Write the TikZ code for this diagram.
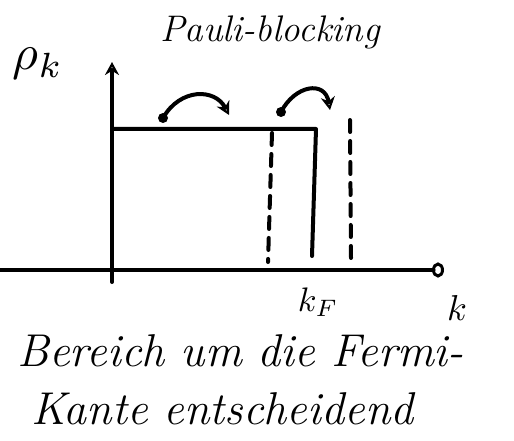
\documentclass[tikz,border=0pt]{standalone}
\usepackage{fix-cm}
\usepackage{fontspec}
\usetikzlibrary{arrows.meta}
\begin{document}
\begin{tikzpicture}[x=1pt,y=-1pt,
  pen/.style={line width=4pt,line cap=round,line join=round},
  dashpen/.style={pen,dash pattern=on 12pt off 9pt},
  tip/.style={-{Stealth[length=13pt,width=14pt,open,line width=3pt]}},
  hand/.style={font=\fontsize{#1}{#1}\selectfont\itshape}]
\useasboundingbox (0,0) rectangle (514,441);
% axes
\coordinate (yb) at (112,282);
\coordinate (yt) at (112,62);
\coordinate (xl) at (0,270);
\coordinate (xr) at (444,270);
\draw[pen,tip] (yb) -- (yt);
\draw[pen,-{Circle[length=12pt,width=15pt,open,line width=3pt]}] (xl) -- (xr);
% distribution
\coordinate (p0) at (112,129);
\coordinate (p1) at (316,129);
\coordinate (p2) at (312,256);
\draw[pen] (p0) -- (p1) -- (p2);
\coordinate (d1t) at (272,133);
\coordinate (d1b) at (268,262);
\coordinate (d2t) at (350,120);
\coordinate (d2b) at (351,258);
\draw[dashpen] (d1t) -- (d1b);
\draw[dashpen] (d2t) -- (d2b);
% hopping arrows
\coordinate (a1s) at (163,118);
\coordinate (a1e) at (229,115);
\fill (a1s) circle (5pt);
\draw[pen,tip] (a1s) .. controls (180,88) and (215,88) .. (a1e);
\coordinate (a2s) at (281,112);
\coordinate (a2e) at (330,110);
\fill (a2s) circle (5pt);
\draw[pen,tip] (a2s) .. controls (295,85) and (325,80) .. (a2e);
% labels
\node[hand=37] (title) at (270,32) {Pauli-blocking};
\node (rho) at (38,64) {\scalebox{5}{$\rho_k$}};
\node[inner sep=0pt] (kf) at (318,302) {\scalebox{3.4}{$k_F$}};
\node[inner sep=0pt] (k) at (457,308) {\scalebox{3.6}{$k$}};
\node[hand=46,anchor=base west] (l1) at (14,366) {Bereich um die Fermi-};
\node[hand=46,anchor=base west] (l2) at (28,424) {Kante entscheidend};
\end{tikzpicture}
\end{document}
